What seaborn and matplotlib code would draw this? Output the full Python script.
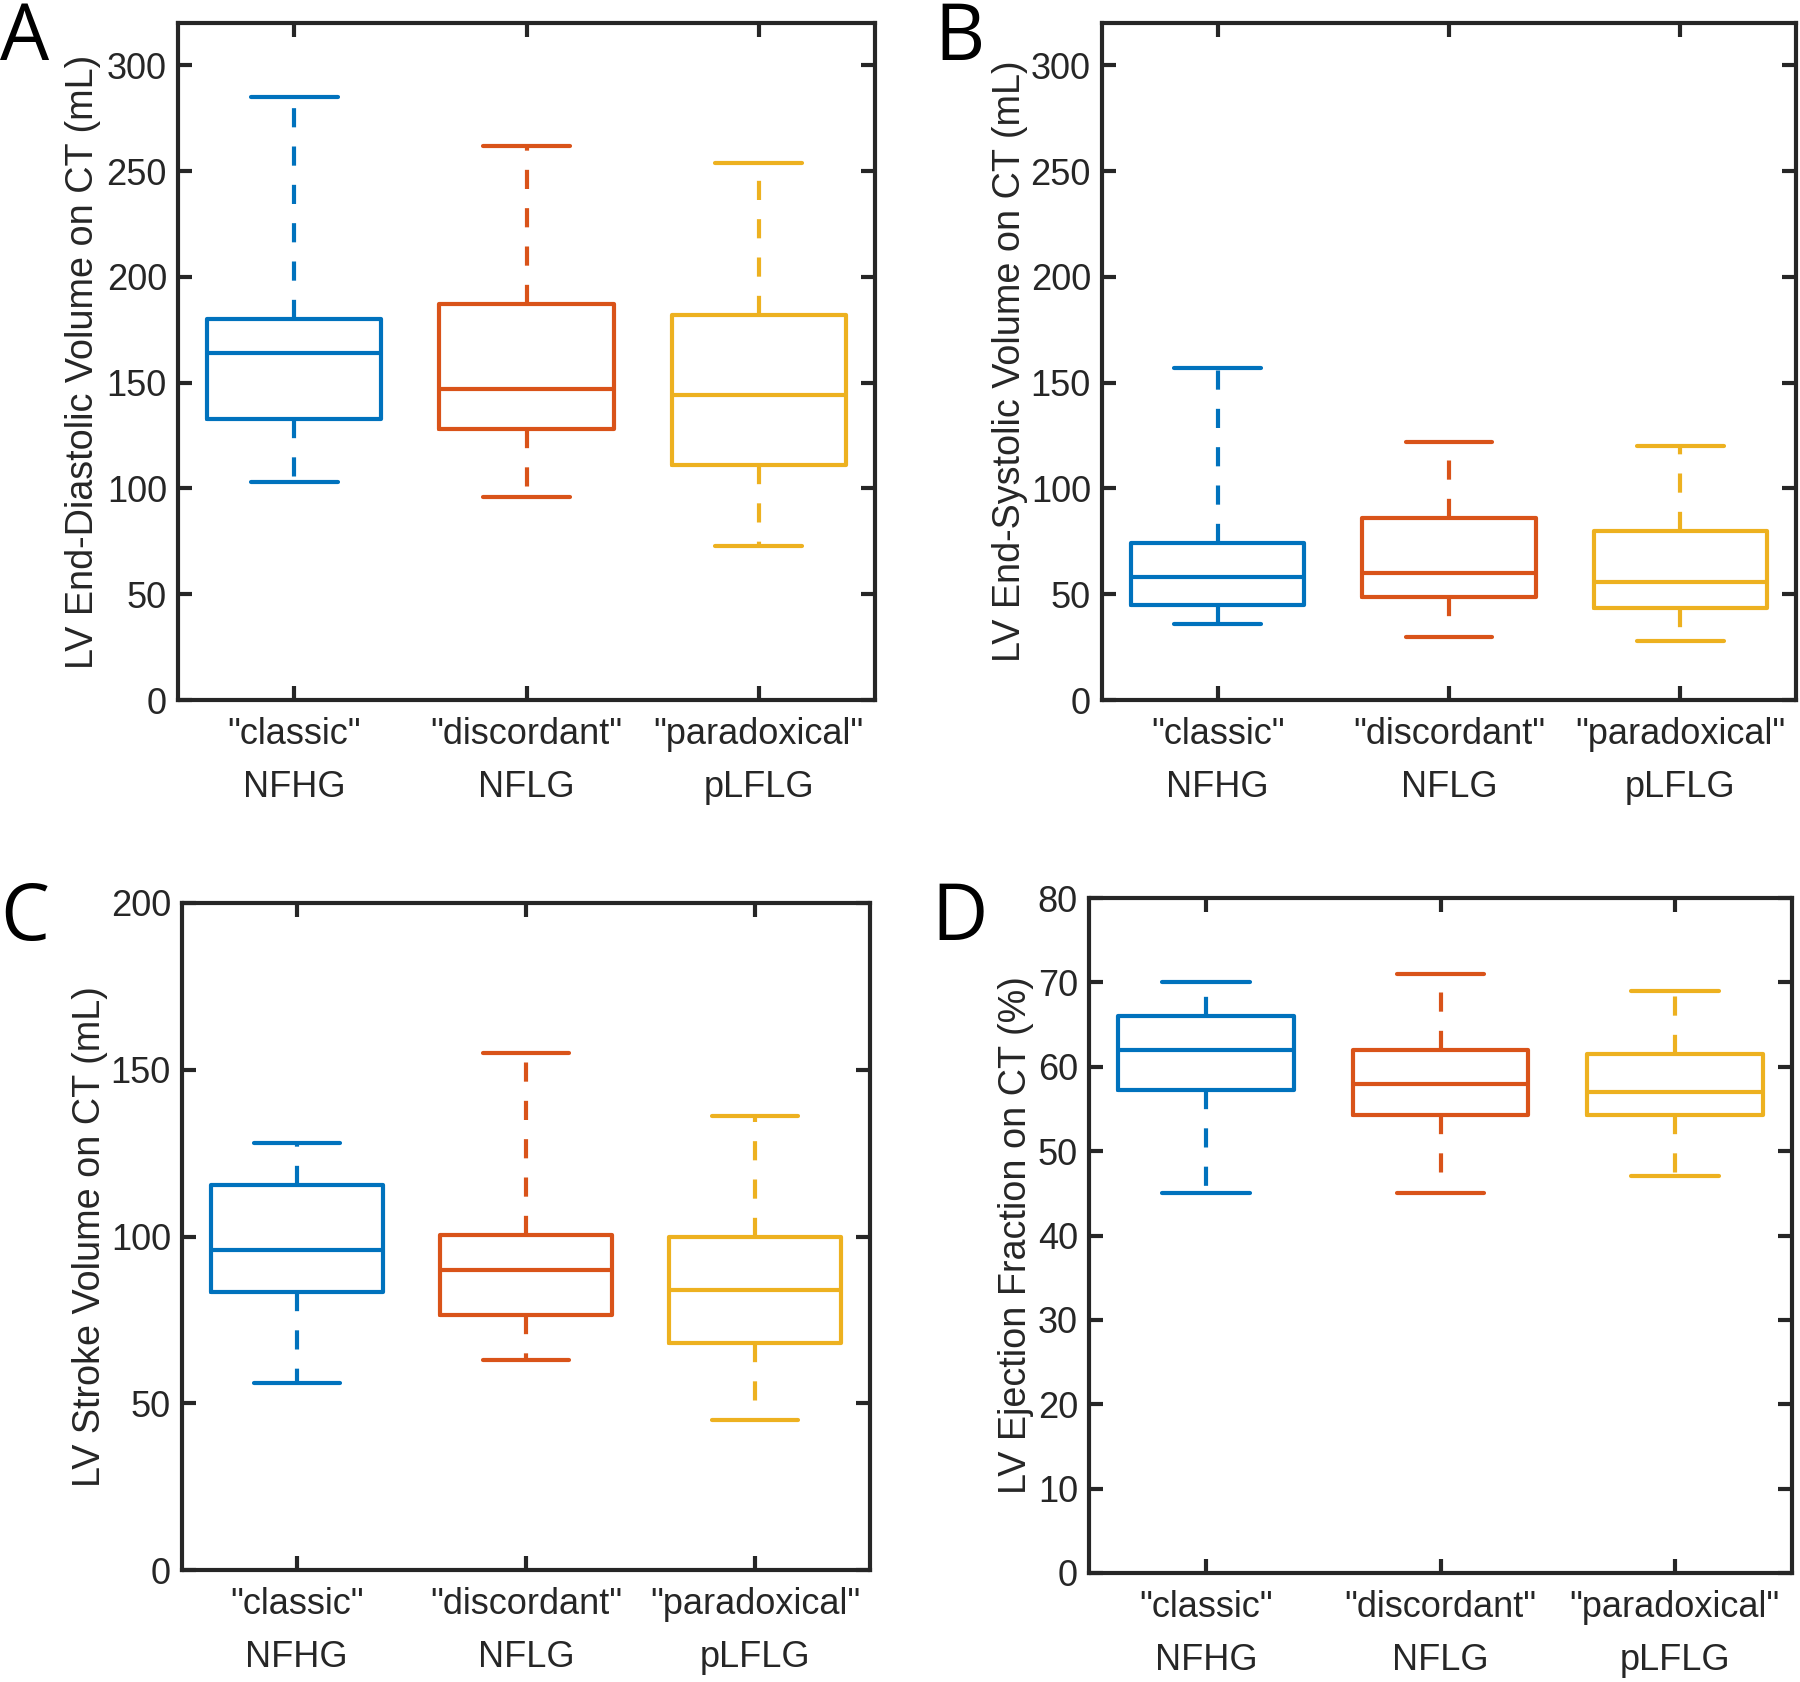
import numpy as np
import pandas as pd
import matplotlib
matplotlib.use("Agg")
import matplotlib.pyplot as plt
import seaborn as sns

# ---------------- data (five-number summaries: min, Q1, median, Q3, max) ----------------
groups = ['"classic"\nNFHG', '"discordant"\nNFLG', '"paradoxical"\npLFLG']
colors = ["#0072BD", "#D95319", "#EDB120"]

edv_classic = [103, 133, 164, 180, 285]
edv_discordant = [96, 128, 147, 187, 262]
edv_paradoxical = [73, 111, 144, 182, 254]

esv_classic = [36, 45, 58, 74, 157]
esv_discordant = [30, 48.5, 60, 86, 122]
esv_paradoxical = [28, 43.5, 56, 80, 120]

sv_classic = [56, 83.5, 96, 115.5, 128]
sv_discordant = [63, 76.5, 90, 100.5, 155]
sv_paradoxical = [45, 68, 84, 100, 136]

ef_classic = [45, 57.3, 62, 66, 70]
ef_discordant = [45, 54.3, 58, 62, 71]
ef_paradoxical = [47, 54.3, 57, 61.5, 69]

ylabels = ["LV End-Diastolic Volume on CT (mL)",
           "LV End-Systolic Volume on CT (mL)",
           "LV Stroke Volume on CT (mL)",
           "LV Ejection Fraction on CT (%)"]
panel_letters = ["A", "B", "C", "D"]

# ---------------- style ----------------
sns.set_theme(style="white")
plt.rcParams["font.family"] = ["Liberation Sans", "DejaVu Sans"]
DARK = "#262626"

fig = plt.figure(figsize=(18, 16.82), dpi=100)


def panel(rect, vals, ylabel, ylim, yticks, label_x):
    ax = fig.add_axes(rect)
    df = pd.DataFrame({
        "group": np.repeat(groups, [len(v) for v in vals]),
        "value": np.concatenate([np.asarray(v, float) for v in vals]),
    })
    sns.boxplot(data=df, x="group", y="value", hue="group", order=groups,
                hue_order=groups, palette=colors, fill=False, whis=(0, 100),
                width=0.75, linewidth=3, showfliers=False, legend=False,
                whiskerprops=dict(linestyle=(0, (4.6, 4.6))), ax=ax)
    ax.set_xlim(-0.5, 2.5)
    ax.set_ylim(*ylim)
    ax.set_yticks(yticks)
    ax.set_xlabel("")
    ax.set_ylabel(ylabel, fontsize=27.2, color=DARK)
    ax.yaxis.set_label_coords(label_x, 0.5)
    for s in ax.spines.values():
        s.set_linewidth(3)
        s.set_color(DARK)
        s.set_visible(True)
    ax.tick_params(axis="both", direction="in", length=10, width=3,
                   top=True, right=True, bottom=True, left=True,
                   colors=DARK, labelsize=26)
    ax.tick_params(axis="x", pad=12.5)
    ax.tick_params(axis="y", pad=8)
    for lbl in ax.get_xticklabels():
        lbl.set_linespacing(1.67)
    return ax


W, H = 1800, 1682


def rect(left, right, top, bottom):
    return [left / W, (H - bottom) / H, (right - left) / W, (bottom - top) / H]


panel(rect(178, 875, 23, 700), [edv_classic, edv_discordant, edv_paradoxical],
      ylabels[0], (0, 320), np.arange(0, 301, 50), -0.11)
panel(rect(1102, 1796, 23, 700), [esv_classic, esv_discordant, esv_paradoxical],
      ylabels[1], (0, 320), np.arange(0, 301, 50), -0.106)
panel(rect(182, 870, 903, 1570), [sv_classic, sv_discordant, sv_paradoxical],
      ylabels[2], (0, 200), np.arange(0, 201, 50), -0.107)
panel(rect(1089, 1792, 898, 1573), [ef_classic, ef_discordant, ef_paradoxical],
      ylabels[3], (0, 80), np.arange(0, 81, 10), -0.078)

letter_pos = [(0, 0), (934, 0), (0, 880), (931, 880)]
for letter, (lx, ly) in zip(panel_letters, letter_pos):
    fig.text(lx / W, 1 - ly / H, letter, fontsize=56, color="black",
             family=["Open Sans", "DejaVu Sans"], ha="left", va="top")

fig.savefig("out.png", dpi=100)
